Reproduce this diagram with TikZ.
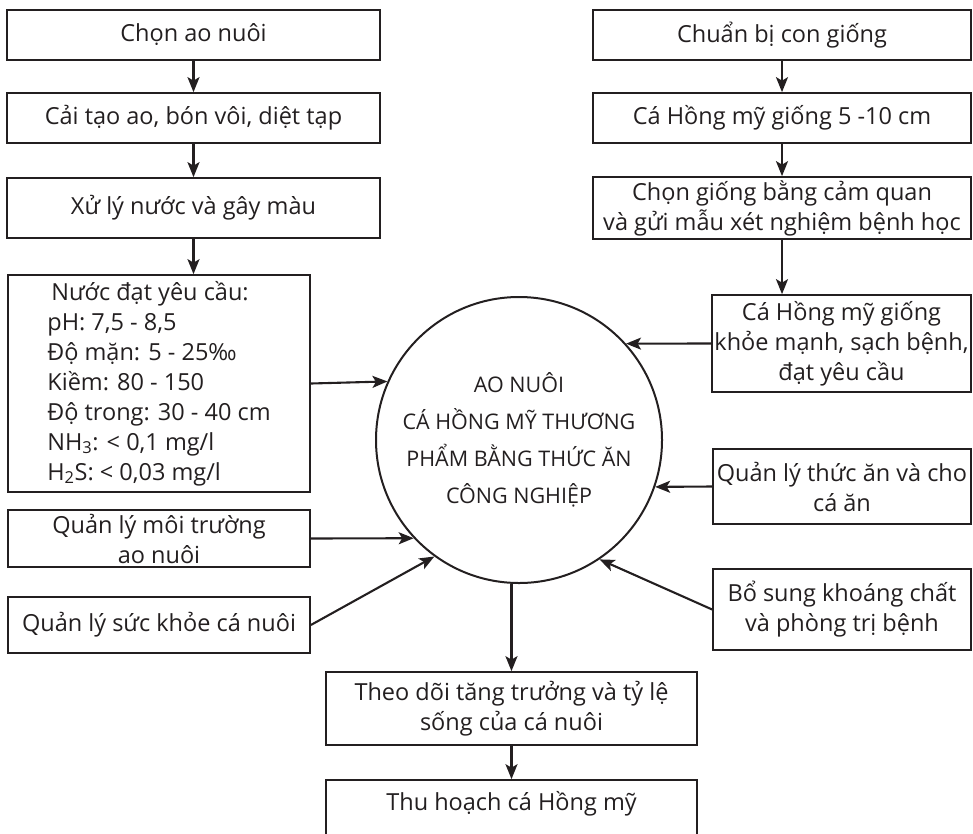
\documentclass[tikz,border=0pt]{standalone}
\usepackage{fontspec}
\setmainfont{Open Sans}
\usepackage{tikz}
\usetikzlibrary{arrows.meta,positioning,calc}

\definecolor{ink}{HTML}{231F20}
\newcommand{\boxfont}{\fontsize{23.5}{30}\selectfont}
\newcommand{\circfont}{\fontsize{21.5}{37}\selectfont}

\tikzset{
  box/.style={draw=ink, line width=1.7pt, rectangle, align=center,
    inner xsep=2pt, inner ysep=0pt, text=ink, font=\boxfont},
  arr/.style={draw=ink, line width=2.1pt, -{Stealth[length=15pt,width=12pt,inset=3.5pt]}}
}

\begin{document}
\begin{tikzpicture}[x=1pt,y=-1pt]
  \useasboundingbox (0,0) rectangle (973,833);
  % left column
  \node[box, minimum width=373pt, minimum height=50pt] (chon) at (193.5,35) {Chọn ao nuôi};
  \node[box, minimum width=373pt, minimum height=50pt] (caitao) at (193.5,118) {Cải tạo ao, bón vôi, diệt tạp};
  \node[box, minimum width=373pt, minimum height=60pt] (xuly) at (193.5,208) {Xử lý nước và gây màu};
  \node[box, align=left, minimum width=302pt, minimum height=217pt] (nuoc) at (159,383.5)
    {\hspace{4pt}Nước đạt yêu cầu:\\ pH: 7,5 - 8,5\\ Độ mặn: 5 - 25‰\\ Kiềm: 80 - 150\\
     Độ trong: 30 - 40 cm\\ NH\textsubscript{3}: < 0,1 mg/l\\ H\textsubscript{2}S: < 0,03 mg/l};
  \node[box, minimum width=302pt, minimum height=57pt] (moitruong) at (159,538.5) {Quản lý môi trường\\ ao nuôi};
  \node[box, minimum width=302pt, minimum height=56pt] (suckhoe) at (159,625) {Quản lý sức khỏe cá nuôi};
  % right column
  \node[box, minimum width=378pt, minimum height=50pt] (chuanbi) at (782,35) {Chuẩn bị con giống};
  \node[box, minimum width=378pt, minimum height=50pt] (giong) at (782,118) {Cá Hồng mỹ giống 5 -10 cm};
  \node[box, minimum width=378pt, minimum height=62pt] (chongiong) at (782,208) {Chọn giống bằng cảm quan\\ và gửi mẫu xét nghiệm bệnh học};
  \node[box, minimum width=259pt, minimum height=97pt] (khoe) at (841.5,343.5) {Cá Hồng mỹ giống\\ khỏe mạnh, sạch bệnh,\\ đạt yêu cầu};
  \node[box, minimum width=258pt, minimum height=75pt] (thucan) at (842,486.5) {Quản lý thức ăn và cho\\ cá ăn};
  \node[box, minimum width=258pt, minimum height=81pt] (bosung) at (842,609.5) {Bổ sung khoáng chất\\ và phòng trị bệnh};
  % centre and bottom
  \node[circle, draw=ink, line width=2pt, minimum size=286pt, align=center, text=ink, font=\circfont] (aonuoi) at (519,440)
    {AO NUÔI\\ CÁ HỒNG MỸ THƯƠNG\\ PHẨM BẰNG THỨC ĂN\\ CÔNG NGHIỆP};
  \node[box, minimum width=371pt, minimum height=73pt] (theodoi) at (511.5,708.5) {Theo dõi tăng trưởng và tỷ lệ\\ sống của cá nuôi};
  \node[box, minimum width=371pt, text height=30pt, text depth=30pt, anchor=base] (thuhoach) at (511.5,810) {Thu hoạch cá Hồng mỹ};

  \draw[arr] (chon) -- (caitao);
  \draw[arr] (caitao) -- (xuly);
  \draw[arr] (xuly.south) -- (xuly.south |- nuoc.north);
  \draw[arr] (chuanbi) -- (giong);
  \draw[arr] (giong) -- (chongiong);
  \draw[arr] (chongiong.south) -- (chongiong.south |- khoe.north);

  \draw[arr] (nuoc.east) -- (aonuoi.156.7);
  \draw[arr] (moitruong.east) -- (aonuoi.223.5);
  \draw[arr] (suckhoe.east) -- (aonuoi.234);
  \draw[arr] (khoe.west) -- (aonuoi.42.4);
  \draw[arr] (thucan.west) -- (aonuoi.341);
  \draw[arr] (bosung.west) -- (aonuoi.304.5);
  \draw[arr] (aonuoi.267) -- (aonuoi.267 |- theodoi.north);
  \draw[arr] (theodoi) -- (thuhoach);
\end{tikzpicture}
\end{document}
